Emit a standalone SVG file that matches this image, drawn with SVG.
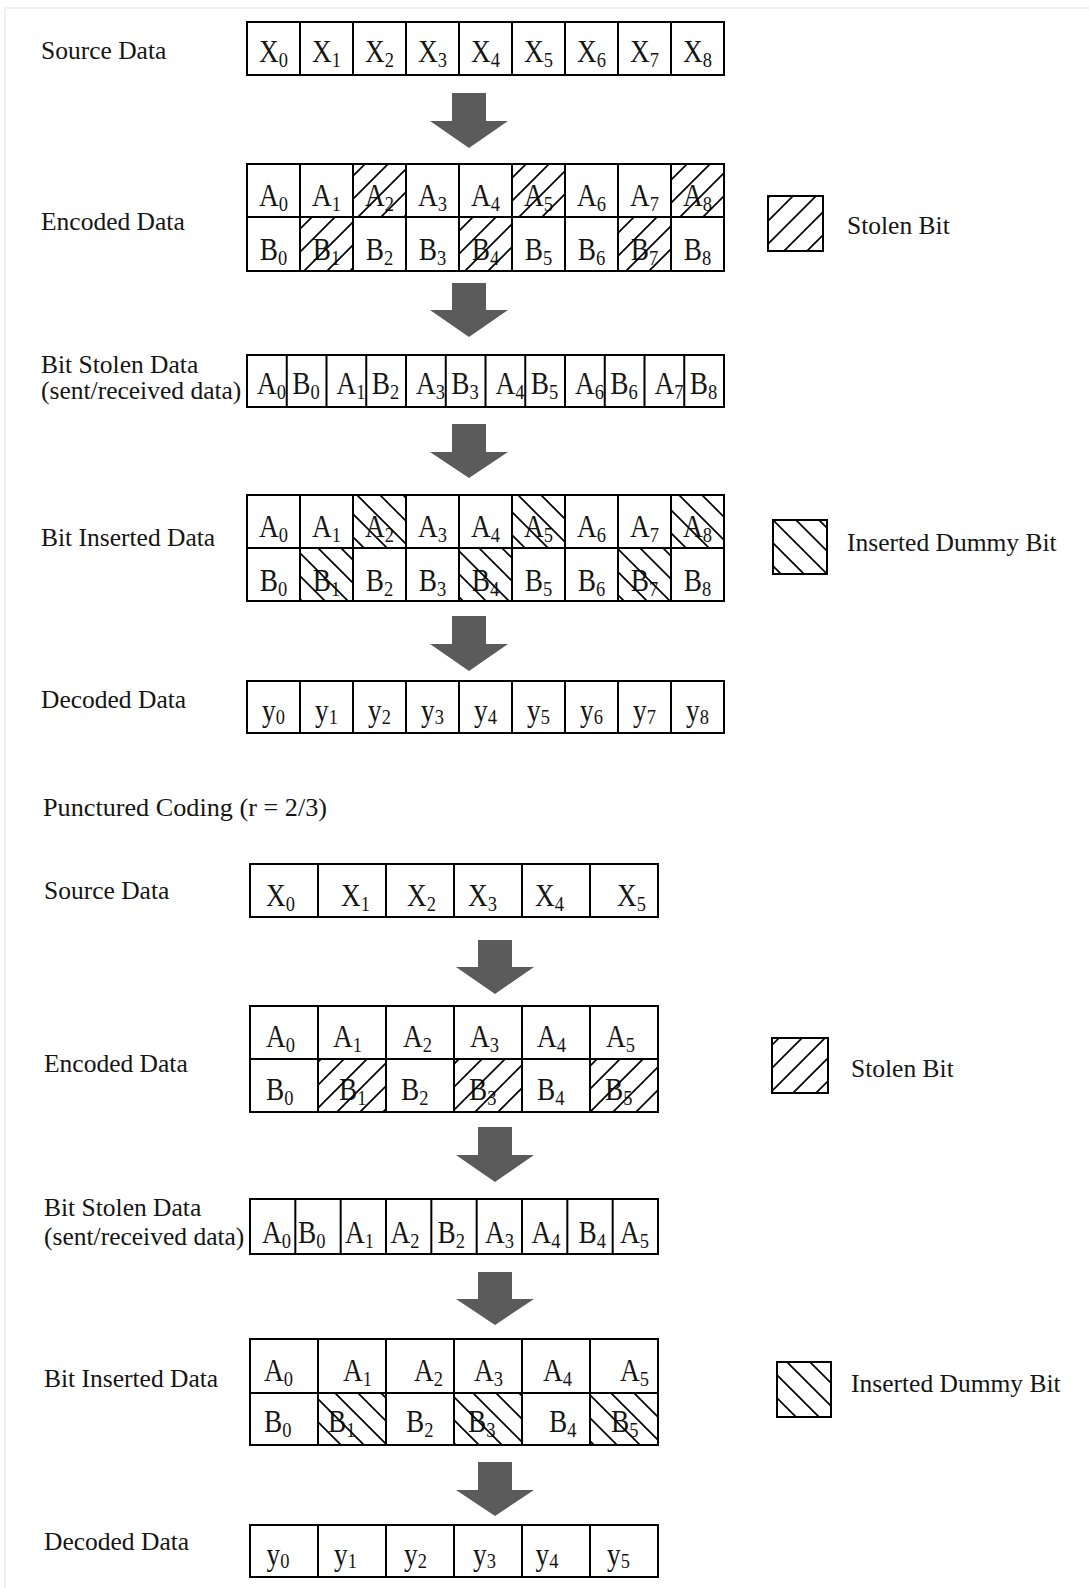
<svg xmlns="http://www.w3.org/2000/svg" width="1089" height="1588" viewBox="0 0 1089 1588">
<style>
.lbl{font-family:"Liberation Serif","Times New Roman",serif;font-size:25.5px;fill:#151515}
.c{font-family:"Liberation Serif","Times New Roman",serif;font-size:31px;fill:#151515}
.m{text-anchor:middle}
.s{font-size:21px}
.box{fill:none;stroke:#000;stroke-width:2}
.ln{stroke:#000;stroke-width:2}
.arr{fill:#5b5b5b}
.hf{fill:url(#hf)}
.hb{fill:url(#hb)}
</style>
<defs>
<pattern id="hf" patternUnits="userSpaceOnUse" width="23" height="23"><path d="M-5,5 L5,-5 M0,23 L23,0 M18,28 L28,18" stroke="#000" stroke-width="1.7"/></pattern>
<pattern id="hb" patternUnits="userSpaceOnUse" width="23" height="23"><path d="M-5,18 L5,28 M0,0 L23,23 M18,-5 L28,5" stroke="#000" stroke-width="1.7"/></pattern>
</defs>
<rect width="1089" height="1588" fill="#fff"/>
<path d="M5,8 V1588 M5,8 H1089" stroke="#ececec" stroke-width="1.5" fill="none"/>

<!-- ===== Top section ===== -->
<g id="t-source">
<text class="lbl" x="41" y="59">Source Data</text>
<g class="c m">
<text transform="translate(273.5,62) scale(.88,1)">X<tspan class="s" dy="5">0</tspan></text>
<text transform="translate(326.5,62) scale(.88,1)">X<tspan class="s" dy="5">1</tspan></text>
<text transform="translate(379.5,62) scale(.88,1)">X<tspan class="s" dy="5">2</tspan></text>
<text transform="translate(432.5,62) scale(.88,1)">X<tspan class="s" dy="5">3</tspan></text>
<text transform="translate(485.5,62) scale(.88,1)">X<tspan class="s" dy="5">4</tspan></text>
<text transform="translate(538.5,62) scale(.88,1)">X<tspan class="s" dy="5">5</tspan></text>
<text transform="translate(591.5,62) scale(.88,1)">X<tspan class="s" dy="5">6</tspan></text>
<text transform="translate(644.5,62) scale(.88,1)">X<tspan class="s" dy="5">7</tspan></text>
<text transform="translate(697.5,62) scale(.88,1)">X<tspan class="s" dy="5">8</tspan></text>
</g>
<rect class="box" x="247" y="22" width="477" height="53"/>
<path class="ln" d="M300,22V75M353,22V75M406,22V75M459,22V75M512,22V75M565,22V75M618,22V75M671,22V75"/>
</g>

<g id="t-encoded">
<text class="lbl" x="41" y="230">Encoded Data</text>
<g class="c m">
<text transform="translate(273.5,206) scale(.88,1)">A<tspan class="s" dy="5">0</tspan></text>
<text transform="translate(326.5,206) scale(.88,1)">A<tspan class="s" dy="5">1</tspan></text>
<text transform="translate(379.5,206) scale(.88,1)">A<tspan class="s" dy="5">2</tspan></text>
<text transform="translate(432.5,206) scale(.88,1)">A<tspan class="s" dy="5">3</tspan></text>
<text transform="translate(485.5,206) scale(.88,1)">A<tspan class="s" dy="5">4</tspan></text>
<text transform="translate(538.5,206) scale(.88,1)">A<tspan class="s" dy="5">5</tspan></text>
<text transform="translate(591.5,206) scale(.88,1)">A<tspan class="s" dy="5">6</tspan></text>
<text transform="translate(644.5,206) scale(.88,1)">A<tspan class="s" dy="5">7</tspan></text>
<text transform="translate(697.5,206) scale(.88,1)">A<tspan class="s" dy="5">8</tspan></text>
<text transform="translate(273.5,260) scale(.88,1)">B<tspan class="s" dy="5">0</tspan></text>
<text transform="translate(326.5,260) scale(.88,1)">B<tspan class="s" dy="5">1</tspan></text>
<text transform="translate(379.5,260) scale(.88,1)">B<tspan class="s" dy="5">2</tspan></text>
<text transform="translate(432.5,260) scale(.88,1)">B<tspan class="s" dy="5">3</tspan></text>
<text transform="translate(485.5,260) scale(.88,1)">B<tspan class="s" dy="5">4</tspan></text>
<text transform="translate(538.5,260) scale(.88,1)">B<tspan class="s" dy="5">5</tspan></text>
<text transform="translate(591.5,260) scale(.88,1)">B<tspan class="s" dy="5">6</tspan></text>
<text transform="translate(644.5,260) scale(.88,1)">B<tspan class="s" dy="5">7</tspan></text>
<text transform="translate(697.5,260) scale(.88,1)">B<tspan class="s" dy="5">8</tspan></text>
</g>
<rect class="hf" x="353" y="164" width="53" height="53"/>
<rect class="hf" x="512" y="164" width="53" height="53"/>
<rect class="hf" x="671" y="164" width="53" height="53"/>
<rect class="hf" x="300" y="217" width="53" height="54"/>
<rect class="hf" x="459" y="217" width="53" height="54"/>
<rect class="hf" x="618" y="217" width="53" height="54"/>
<rect class="box" x="247" y="164" width="477" height="107"/>
<path class="ln" d="M247,217H724M300,164V271M353,164V271M406,164V271M459,164V271M512,164V271M565,164V271M618,164V271M671,164V271"/>
</g>

<g id="t-legend-stolen">
<rect class="hf" x="768" y="196" width="55" height="55"/>
<rect class="box" x="768" y="196" width="55" height="55"/>
<text class="lbl" x="847" y="234">Stolen Bit</text>
</g>

<g id="t-stolen">
<text class="lbl" x="41" y="373">Bit Stolen Data</text>
<text class="lbl" x="41" y="399">(sent/received data)</text>
<g class="c">
<text transform="translate(257,394) scale(.88,1)">A<tspan class="s" dy="5">0</tspan></text>
<text transform="translate(292.25,394) scale(.88,1)">B<tspan class="s" dy="5">0</tspan></text>
<text transform="translate(336.5,394) scale(.88,1)">A<tspan class="s" dy="5">1</tspan></text>
<text transform="translate(371.75,394) scale(.88,1)">B<tspan class="s" dy="5">2</tspan></text>
<text transform="translate(416,394) scale(.88,1)">A<tspan class="s" dy="5">3</tspan></text>
<text transform="translate(451.25,394) scale(.88,1)">B<tspan class="s" dy="5">3</tspan></text>
<text transform="translate(495.5,394) scale(.88,1)">A<tspan class="s" dy="5">4</tspan></text>
<text transform="translate(530.75,394) scale(.88,1)">B<tspan class="s" dy="5">5</tspan></text>
<text transform="translate(575,394) scale(.88,1)">A<tspan class="s" dy="5">6</tspan></text>
<text transform="translate(610.25,394) scale(.88,1)">B<tspan class="s" dy="5">6</tspan></text>
<text transform="translate(654.5,394) scale(.88,1)">A<tspan class="s" dy="5">7</tspan></text>
<text transform="translate(689.75,394) scale(.88,1)">B<tspan class="s" dy="5">8</tspan></text>
</g>
<rect class="box" x="247" y="355" width="477" height="52"/>
<path class="ln" d="M286.75,355V407M326.5,355V407M366.25,355V407M406,355V407M445.75,355V407M485.5,355V407M525.25,355V407M565,355V407M604.75,355V407M644.5,355V407M684.25,355V407"/>
</g>

<g id="t-inserted">
<text class="lbl" x="41" y="546">Bit Inserted Data</text>
<g class="c m">
<text transform="translate(273.5,537) scale(.88,1)">A<tspan class="s" dy="5">0</tspan></text>
<text transform="translate(326.5,537) scale(.88,1)">A<tspan class="s" dy="5">1</tspan></text>
<text transform="translate(379.5,537) scale(.88,1)">A<tspan class="s" dy="5">2</tspan></text>
<text transform="translate(432.5,537) scale(.88,1)">A<tspan class="s" dy="5">3</tspan></text>
<text transform="translate(485.5,537) scale(.88,1)">A<tspan class="s" dy="5">4</tspan></text>
<text transform="translate(538.5,537) scale(.88,1)">A<tspan class="s" dy="5">5</tspan></text>
<text transform="translate(591.5,537) scale(.88,1)">A<tspan class="s" dy="5">6</tspan></text>
<text transform="translate(644.5,537) scale(.88,1)">A<tspan class="s" dy="5">7</tspan></text>
<text transform="translate(697.5,537) scale(.88,1)">A<tspan class="s" dy="5">8</tspan></text>
<text transform="translate(273.5,591) scale(.88,1)">B<tspan class="s" dy="5">0</tspan></text>
<text transform="translate(326.5,591) scale(.88,1)">B<tspan class="s" dy="5">1</tspan></text>
<text transform="translate(379.5,591) scale(.88,1)">B<tspan class="s" dy="5">2</tspan></text>
<text transform="translate(432.5,591) scale(.88,1)">B<tspan class="s" dy="5">3</tspan></text>
<text transform="translate(485.5,591) scale(.88,1)">B<tspan class="s" dy="5">4</tspan></text>
<text transform="translate(538.5,591) scale(.88,1)">B<tspan class="s" dy="5">5</tspan></text>
<text transform="translate(591.5,591) scale(.88,1)">B<tspan class="s" dy="5">6</tspan></text>
<text transform="translate(644.5,591) scale(.88,1)">B<tspan class="s" dy="5">7</tspan></text>
<text transform="translate(697.5,591) scale(.88,1)">B<tspan class="s" dy="5">8</tspan></text>
</g>
<rect class="hb" x="353" y="495" width="53" height="53"/>
<rect class="hb" x="512" y="495" width="53" height="53"/>
<rect class="hb" x="671" y="495" width="53" height="53"/>
<rect class="hb" x="300" y="548" width="53" height="53"/>
<rect class="hb" x="459" y="548" width="53" height="53"/>
<rect class="hb" x="618" y="548" width="53" height="53"/>
<rect class="box" x="247" y="495" width="477" height="106"/>
<path class="ln" d="M247,548H724M300,495V601M353,495V601M406,495V601M459,495V601M512,495V601M565,495V601M618,495V601M671,495V601"/>
</g>

<g id="t-legend-inserted">
<rect class="hb" x="773" y="520" width="54" height="54"/>
<rect class="box" x="773" y="520" width="54" height="54"/>
<text class="lbl" x="847" y="551">Inserted Dummy Bit</text>
</g>

<g id="t-decoded">
<text class="lbl" x="41" y="708">Decoded Data</text>
<g class="c m">
<text transform="translate(273.5,721) scale(.88,1)">y<tspan class="s" dy="3">0</tspan></text>
<text transform="translate(326.5,721) scale(.88,1)">y<tspan class="s" dy="3">1</tspan></text>
<text transform="translate(379.5,721) scale(.88,1)">y<tspan class="s" dy="3">2</tspan></text>
<text transform="translate(432.5,721) scale(.88,1)">y<tspan class="s" dy="3">3</tspan></text>
<text transform="translate(485.5,721) scale(.88,1)">y<tspan class="s" dy="3">4</tspan></text>
<text transform="translate(538.5,721) scale(.88,1)">y<tspan class="s" dy="3">5</tspan></text>
<text transform="translate(591.5,721) scale(.88,1)">y<tspan class="s" dy="3">6</tspan></text>
<text transform="translate(644.5,721) scale(.88,1)">y<tspan class="s" dy="3">7</tspan></text>
<text transform="translate(697.5,721) scale(.88,1)">y<tspan class="s" dy="3">8</tspan></text>
</g>
<rect class="box" x="247" y="681" width="477" height="52"/>
<path class="ln" d="M300,681V733M353,681V733M406,681V733M459,681V733M512,681V733M565,681V733M618,681V733M671,681V733"/>
</g>

<text id="title-punctured" class="lbl" x="43" y="816" textLength="284" lengthAdjust="spacingAndGlyphs">Punctured Coding (r = 2/3)</text>

<!-- ===== Bottom section ===== -->
<g id="b-source">
<text class="lbl" x="44" y="899">Source Data</text>
<g class="c">
<text transform="translate(266,906) scale(.88,1)">X<tspan class="s" dy="5">0</tspan></text>
<text transform="translate(341,906) scale(.88,1)">X<tspan class="s" dy="5">1</tspan></text>
<text transform="translate(407,906) scale(.88,1)">X<tspan class="s" dy="5">2</tspan></text>
<text transform="translate(468,906) scale(.88,1)">X<tspan class="s" dy="5">3</tspan></text>
<text transform="translate(535,906) scale(.88,1)">X<tspan class="s" dy="5">4</tspan></text>
<text transform="translate(617,906) scale(.88,1)">X<tspan class="s" dy="5">5</tspan></text>
</g>
<rect class="box" x="250" y="864" width="408" height="53"/>
<path class="ln" d="M318,864V917M386,864V917M454,864V917M522,864V917M590,864V917"/>
</g>

<g id="b-encoded">
<text class="lbl" x="44" y="1072">Encoded Data</text>
<g class="c">
<text transform="translate(266,1047) scale(.88,1)">A<tspan class="s" dy="5">0</tspan></text>
<text transform="translate(333,1047) scale(.88,1)">A<tspan class="s" dy="5">1</tspan></text>
<text transform="translate(403,1047) scale(.88,1)">A<tspan class="s" dy="5">2</tspan></text>
<text transform="translate(470,1047) scale(.88,1)">A<tspan class="s" dy="5">3</tspan></text>
<text transform="translate(537,1047) scale(.88,1)">A<tspan class="s" dy="5">4</tspan></text>
<text transform="translate(606,1047) scale(.88,1)">A<tspan class="s" dy="5">5</tspan></text>
<text transform="translate(266,1100) scale(.88,1)">B<tspan class="s" dy="5">0</tspan></text>
<text transform="translate(339,1100) scale(.88,1)">B<tspan class="s" dy="5">1</tspan></text>
<text transform="translate(401,1100) scale(.88,1)">B<tspan class="s" dy="5">2</tspan></text>
<text transform="translate(469,1100) scale(.88,1)">B<tspan class="s" dy="5">3</tspan></text>
<text transform="translate(537,1100) scale(.88,1)">B<tspan class="s" dy="5">4</tspan></text>
<text transform="translate(605,1100) scale(.88,1)">B<tspan class="s" dy="5">5</tspan></text>
</g>
<rect class="hf" x="318" y="1059" width="68" height="53"/>
<rect class="hf" x="454" y="1059" width="68" height="53"/>
<rect class="hf" x="590" y="1059" width="68" height="53"/>
<rect class="box" x="250" y="1006" width="408" height="106"/>
<path class="ln" d="M250,1059H658M318,1006V1112M386,1006V1112M454,1006V1112M522,1006V1112M590,1006V1112"/>
</g>

<g id="b-legend-stolen">
<rect class="hf" x="772" y="1038" width="56" height="55"/>
<rect class="box" x="772" y="1038" width="56" height="55"/>
<text class="lbl" x="851" y="1077">Stolen Bit</text>
</g>

<g id="b-stolen">
<text class="lbl" x="44" y="1216">Bit Stolen Data</text>
<text class="lbl" x="44" y="1245">(sent/received data)</text>
<g class="c">
<text transform="translate(262,1243) scale(.88,1)">A<tspan class="s" dy="5">0</tspan></text>
<text transform="translate(298,1243) scale(.88,1)">B<tspan class="s" dy="5">0</tspan></text>
<text transform="translate(345,1243) scale(.88,1)">A<tspan class="s" dy="5">1</tspan></text>
<text transform="translate(390.5,1243) scale(.88,1)">A<tspan class="s" dy="5">2</tspan></text>
<text transform="translate(437.5,1243) scale(.88,1)">B<tspan class="s" dy="5">2</tspan></text>
<text transform="translate(485,1243) scale(.88,1)">A<tspan class="s" dy="5">3</tspan></text>
<text transform="translate(531.5,1243) scale(.88,1)">A<tspan class="s" dy="5">4</tspan></text>
<text transform="translate(578.5,1243) scale(.88,1)">B<tspan class="s" dy="5">4</tspan></text>
<text transform="translate(620,1243) scale(.88,1)">A<tspan class="s" dy="5">5</tspan></text>
</g>
<rect class="box" x="250" y="1199" width="408" height="55"/>
<path class="ln" d="M295.33,1199V1254M340.67,1199V1254M386,1199V1254M431.33,1199V1254M476.67,1199V1254M522,1199V1254M567.33,1199V1254M612.67,1199V1254"/>
</g>

<g id="b-inserted">
<text class="lbl" x="44" y="1387">Bit Inserted Data</text>
<g class="c">
<text transform="translate(264,1381) scale(.88,1)">A<tspan class="s" dy="5">0</tspan></text>
<text transform="translate(343,1381) scale(.88,1)">A<tspan class="s" dy="5">1</tspan></text>
<text transform="translate(414,1381) scale(.88,1)">A<tspan class="s" dy="5">2</tspan></text>
<text transform="translate(474,1381) scale(.88,1)">A<tspan class="s" dy="5">3</tspan></text>
<text transform="translate(543,1381) scale(.88,1)">A<tspan class="s" dy="5">4</tspan></text>
<text transform="translate(620,1381) scale(.88,1)">A<tspan class="s" dy="5">5</tspan></text>
<text transform="translate(264,1432) scale(.88,1)">B<tspan class="s" dy="5">0</tspan></text>
<text transform="translate(328,1432) scale(.88,1)">B<tspan class="s" dy="5">1</tspan></text>
<text transform="translate(406,1432) scale(.88,1)">B<tspan class="s" dy="5">2</tspan></text>
<text transform="translate(468,1432) scale(.88,1)">B<tspan class="s" dy="5">3</tspan></text>
<text transform="translate(549,1432) scale(.88,1)">B<tspan class="s" dy="5">4</tspan></text>
<text transform="translate(611,1432) scale(.88,1)">B<tspan class="s" dy="5">5</tspan></text>
</g>
<rect class="hb" x="318" y="1393" width="68" height="52"/>
<rect class="hb" x="454" y="1393" width="68" height="52"/>
<rect class="hb" x="590" y="1393" width="68" height="52"/>
<rect class="box" x="250" y="1339" width="408" height="106"/>
<path class="ln" d="M250,1393H658M318,1339V1445M386,1339V1445M454,1339V1445M522,1339V1445M590,1339V1445"/>
</g>

<g id="b-legend-inserted">
<rect class="hb" x="777" y="1362" width="54" height="55"/>
<rect class="box" x="777" y="1362" width="54" height="55"/>
<text class="lbl" x="851" y="1392">Inserted Dummy Bit</text>
</g>

<g id="b-decoded">
<text class="lbl" x="44" y="1550">Decoded Data</text>
<g class="c">
<text transform="translate(266.5,1565) scale(.88,1)">y<tspan class="s" dy="3">0</tspan></text>
<text transform="translate(334,1565) scale(.88,1)">y<tspan class="s" dy="3">1</tspan></text>
<text transform="translate(404,1565) scale(.88,1)">y<tspan class="s" dy="3">2</tspan></text>
<text transform="translate(473,1565) scale(.88,1)">y<tspan class="s" dy="3">3</tspan></text>
<text transform="translate(535.5,1565) scale(.88,1)">y<tspan class="s" dy="3">4</tspan></text>
<text transform="translate(607,1565) scale(.88,1)">y<tspan class="s" dy="3">5</tspan></text>
</g>
<rect class="box" x="250" y="1525" width="408" height="52"/>
<path class="ln" d="M318,1525V1577M386,1525V1577M454,1525V1577M522,1525V1577M590,1525V1577"/>
</g>

<!-- ===== Connectors (block arrows) ===== -->
<g id="connectors" class="arr">
<polygon points="452,93 486,93 486,121 508,121 469,148 430,121 452,121"/>
<polygon points="452,283 486,283 486,310 508,310 469,337 430,310 452,310"/>
<polygon points="452,424 486,424 486,452 508,452 469,478 430,452 452,452"/>
<polygon points="452,616 486,616 486,644 508,644 469,671 430,644 452,644"/>
<polygon points="478,940 512,940 512,967 534,967 495,994 456,967 478,967"/>
<polygon points="478,1127 512,1127 512,1155 534,1155 495,1182 456,1155 478,1155"/>
<polygon points="478,1272 512,1272 512,1299 534,1299 495,1325 456,1299 478,1299"/>
<polygon points="478,1462 512,1462 512,1490 534,1490 495,1516 456,1490 478,1490"/>
</g>
</svg>
